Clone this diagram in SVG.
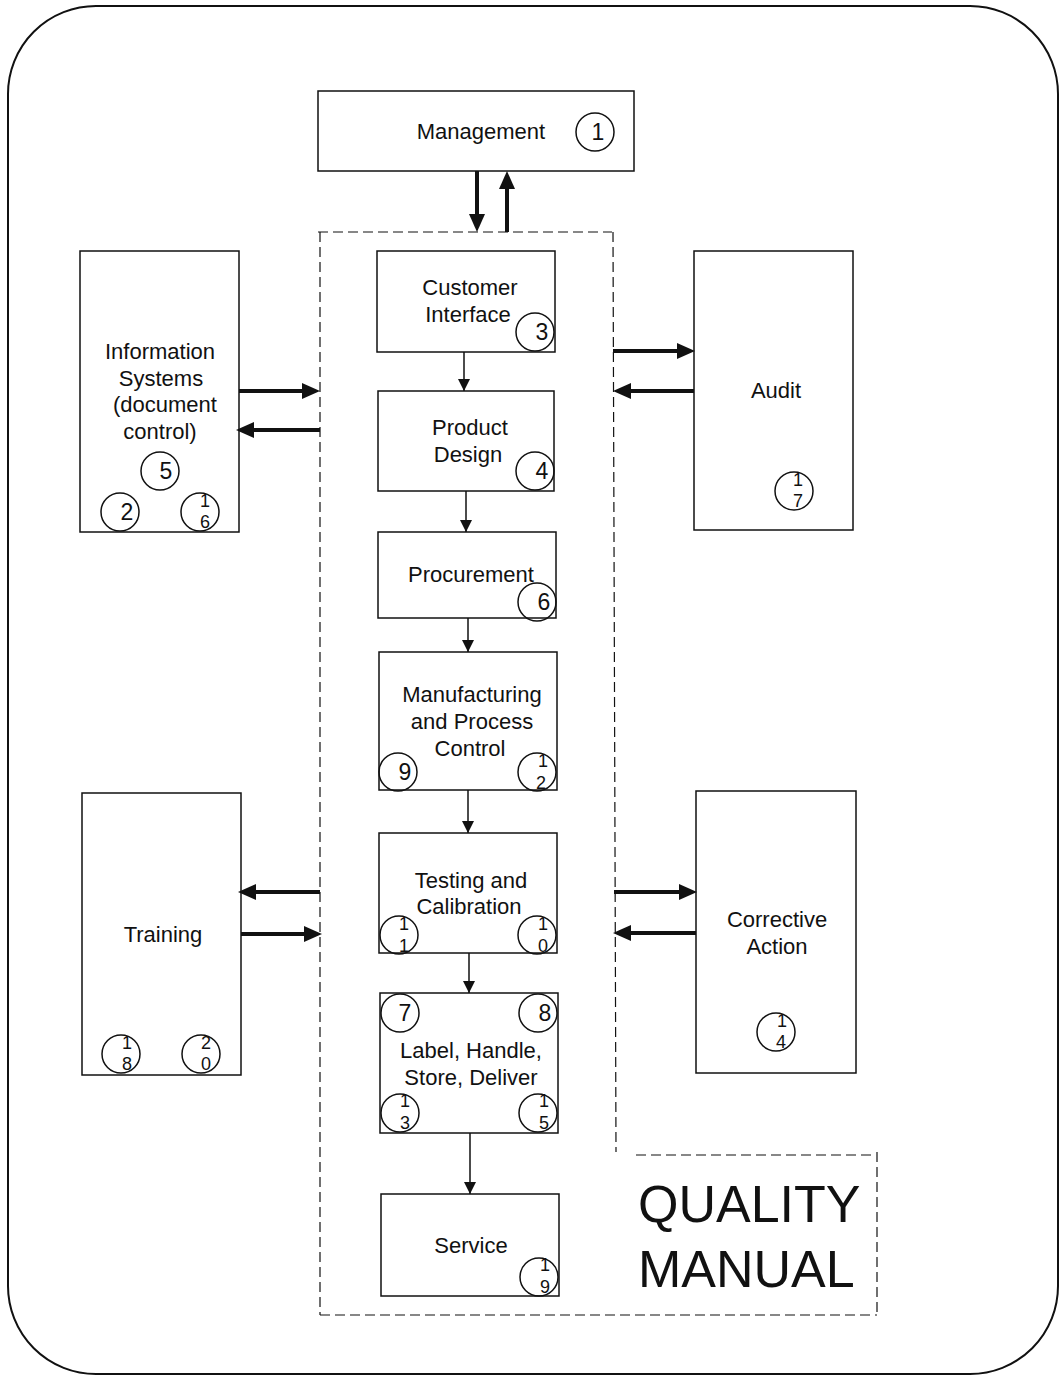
<svg xmlns="http://www.w3.org/2000/svg" width="1062" height="1377" viewBox="0 0 1062 1377">
<style>
.box{fill:#fff;stroke:#111;stroke-width:1.5}
.t{font-family:"Liberation Sans",Arial,sans-serif;font-size:22px;fill:#111;text-anchor:middle}
.big{font-family:"Liberation Sans",Arial,sans-serif;font-size:52px;fill:#111}
.c{fill:none;stroke:#111;stroke-width:1.5}
.n{font-family:"Liberation Sans",Arial,sans-serif;font-size:23px;fill:#111;text-anchor:middle}
.s{font-family:"Liberation Sans",Arial,sans-serif;font-size:18px;fill:#111;text-anchor:middle}
.dash{fill:none;stroke:#111;stroke-width:1.2;stroke-dasharray:10,5}
.thin{fill:none;stroke:#111;stroke-width:1.5}
.thick{fill:none;stroke:#111;stroke-width:4}
</style>
<defs>
<marker id="ah" markerUnits="userSpaceOnUse" markerWidth="12" markerHeight="12" refX="12" refY="6" orient="auto"><path d="M0,0 L12,6 L0,12 z" fill="#111"/></marker>
<marker id="AH" markerUnits="userSpaceOnUse" markerWidth="18" markerHeight="16" refX="6" refY="8" orient="auto"><path d="M0,0 L18,8 L0,16 z" fill="#111"/></marker>
</defs>
<rect x="8" y="6" width="1050" height="1368" rx="88" ry="88" fill="#fff" stroke="#111" stroke-width="2"/>

<g id="boundary">
<line class="dash" x1="318" y1="232" x2="612" y2="232"/>
<line class="dash" x1="320" y1="232" x2="320" y2="1315"/>
<line class="dash" x1="613" y1="232" x2="616" y2="1152"/>
<line class="dash" x1="636" y1="1155" x2="876" y2="1155"/>
<line class="dash" x1="877" y1="1152" x2="877" y2="1314"/>
<line class="dash" x1="320" y1="1315" x2="877" y2="1315"/>
</g>

<g id="management">
<rect class="box" x="318" y="91" width="316" height="80"/>
<text class="t" x="481" y="139">Management</text>
<circle class="c" cx="595" cy="132" r="19"/><text class="n" x="598" y="140">1</text>
</g>

<g id="customer-interface">
<rect class="box" x="377" y="251" width="178" height="101"/>
<text class="t" x="470" y="295">Customer</text>
<text class="t" x="468" y="322">Interface</text>
<circle class="c" cx="535" cy="332" r="19"/><text class="n" x="542" y="340">3</text>
</g>

<g id="product-design">
<rect class="box" x="378" y="391" width="176" height="100"/>
<text class="t" x="470" y="435">Product</text>
<text class="t" x="468" y="462">Design</text>
<circle class="c" cx="535" cy="471" r="19"/><text class="n" x="542" y="479">4</text>
</g>

<g id="procurement">
<rect class="box" x="378" y="532" width="178" height="86"/>
<text class="t" x="471" y="582">Procurement</text>
<circle class="c" cx="537" cy="602" r="19"/><text class="n" x="544" y="610">6</text>
</g>

<g id="manufacturing">
<rect class="box" x="379" y="652" width="178" height="138"/>
<text class="t" x="472" y="702">Manufacturing</text>
<text class="t" x="472" y="729">and Process</text>
<text class="t" x="470" y="756">Control</text>
<circle class="c" cx="398" cy="772" r="19"/><text class="n" x="405" y="780">9</text>
<circle class="c" cx="537" cy="772" r="19"/><text class="s" x="543" y="767">1</text><text class="s" x="541" y="789">2</text>
</g>

<g id="testing">
<rect class="box" x="379" y="833" width="178" height="120"/>
<text class="t" x="471" y="888">Testing and</text>
<text class="t" x="469" y="914">Calibration</text>
<circle class="c" cx="399" cy="935" r="19"/><text class="s" x="404" y="930">1</text><text class="s" x="404" y="952">1</text>
<circle class="c" cx="537" cy="935" r="19"/><text class="s" x="543" y="930">1</text><text class="s" x="543" y="952">0</text>
</g>

<g id="label-handle">
<rect class="box" x="380" y="993" width="178" height="140"/>
<text class="t" x="471" y="1058">Label, Handle,</text>
<text class="t" x="471" y="1085">Store, Deliver</text>
<circle class="c" cx="400" cy="1013" r="19"/><text class="n" x="405" y="1021">7</text>
<circle class="c" cx="538" cy="1013" r="19"/><text class="n" x="545" y="1021">8</text>
<circle class="c" cx="400" cy="1113" r="19"/><text class="s" x="405" y="1107">1</text><text class="s" x="405" y="1129">3</text>
<circle class="c" cx="538" cy="1113" r="19"/><text class="s" x="544" y="1107">1</text><text class="s" x="544" y="1129">5</text>
</g>

<g id="service">
<rect class="box" x="381" y="1194" width="178" height="102"/>
<text class="t" x="471" y="1253">Service</text>
<circle class="c" cx="539" cy="1277" r="19"/><text class="s" x="545" y="1271">1</text><text class="s" x="545" y="1293">9</text>
</g>

<g id="information-systems">
<rect class="box" x="80" y="251" width="159" height="281"/>
<text class="t" x="160" y="359">Information</text>
<text class="t" x="161" y="386">Systems</text>
<text class="t" x="165" y="412">(document</text>
<text class="t" x="160" y="439">control)</text>
<circle class="c" cx="160" cy="471" r="19"/><text class="n" x="166" y="479">5</text>
<circle class="c" cx="120" cy="512" r="19"/><text class="n" x="127" y="520">2</text>
<circle class="c" cx="200" cy="512" r="19"/><text class="s" x="205" y="507">1</text><text class="s" x="205" y="528">6</text>
</g>

<g id="audit">
<rect class="box" x="694" y="251" width="159" height="279"/>
<text class="t" x="776" y="398">Audit</text>
<circle class="c" cx="794" cy="491" r="19"/><text class="s" x="798" y="486">1</text><text class="s" x="798" y="507">7</text>
</g>

<g id="training">
<rect class="box" x="82" y="793" width="159" height="282"/>
<text class="t" x="163" y="942">Training</text>
<circle class="c" cx="121" cy="1054" r="19"/><text class="s" x="127" y="1049">1</text><text class="s" x="127" y="1070">8</text>
<circle class="c" cx="201" cy="1054" r="19"/><text class="s" x="206" y="1049">2</text><text class="s" x="206" y="1070">0</text>
</g>

<g id="corrective-action">
<rect class="box" x="696" y="791" width="160" height="282"/>
<text class="t" x="777" y="927">Corrective</text>
<text class="t" x="777" y="954">Action</text>
<circle class="c" cx="776" cy="1032" r="19"/><text class="s" x="782" y="1027">1</text><text class="s" x="781" y="1048">4</text>
</g>

<g id="quality-manual">
<text class="big" x="638" y="1222">QUALITY</text>
<text class="big" x="638" y="1287">MANUAL</text>
</g>

<g id="connectors">
<line class="thin" x1="464" y1="352" x2="464" y2="391" marker-end="url(#ah)"/>
<line class="thin" x1="466" y1="491" x2="466" y2="532" marker-end="url(#ah)"/>
<line class="thin" x1="468" y1="618" x2="468" y2="652" marker-end="url(#ah)"/>
<line class="thin" x1="468" y1="790" x2="468" y2="833" marker-end="url(#ah)"/>
<line class="thin" x1="469" y1="953" x2="469" y2="993" marker-end="url(#ah)"/>
<line class="thin" x1="470" y1="1133" x2="470" y2="1194" marker-end="url(#ah)"/>

<line class="thick" x1="477" y1="171" x2="477" y2="220" marker-end="url(#AH)"/>
<line class="thick" x1="507" y1="232" x2="507" y2="183" marker-end="url(#AH)"/>

<line class="thick" x1="239" y1="391" x2="308" y2="391" marker-end="url(#AH)"/>
<line class="thick" x1="320" y1="430" x2="248" y2="430" marker-end="url(#AH)"/>

<line class="thick" x1="613" y1="351" x2="683" y2="351" marker-end="url(#AH)"/>
<line class="thick" x1="694" y1="391" x2="625" y2="391" marker-end="url(#AH)"/>

<line class="thick" x1="320" y1="892" x2="250" y2="892" marker-end="url(#AH)"/>
<line class="thick" x1="241" y1="934" x2="310" y2="934" marker-end="url(#AH)"/>

<line class="thick" x1="614" y1="892" x2="685" y2="892" marker-end="url(#AH)"/>
<line class="thick" x1="696" y1="933" x2="625" y2="933" marker-end="url(#AH)"/>
</g>
</svg>
